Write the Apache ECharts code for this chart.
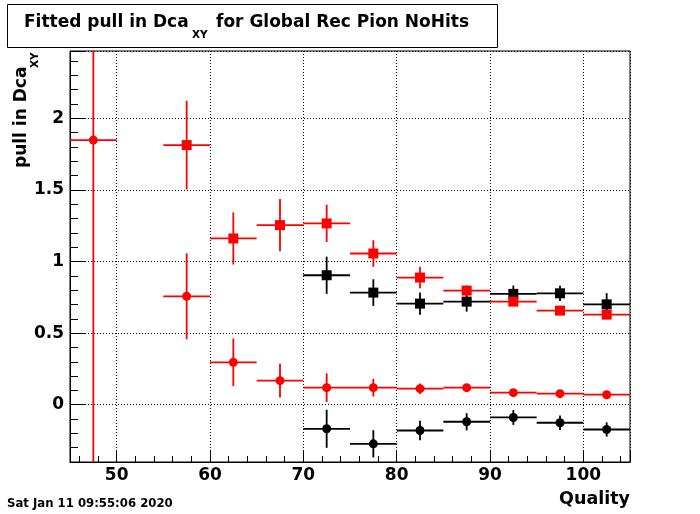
<!DOCTYPE html>
<html><head><meta charset="utf-8">
<script src="https://cdn.jsdelivr.net/npm/echarts@6/dist/echarts.min.js"></script>
<style>html,body{margin:0;padding:0;background:#fff}#c{width:700px;height:514px}</style>
</head><body><div id="c"></div>
<script>
// ---- data ----
const xRedCircle = [47.5, 57.5, 62.5, 67.5, 72.5, 77.5, 82.5, 87.5, 92.5, 97.5, 102.5];
const yRedCircle = [1.848, 0.757, 0.296, 0.168, 0.119, 0.119, 0.112, 0.119, 0.084, 0.077, 0.070];
const eRedCircle = [3.0, 0.30, 0.166, 0.118, 0.10, 0.062, 0.037, 0.025, 0.022, 0.018, 0.018];

const xRedSquare = [57.5, 62.5, 67.5, 72.5, 77.5, 82.5, 87.5, 92.5, 97.5, 102.5];
const yRedSquare = [1.813, 1.161, 1.254, 1.266, 1.056, 0.888, 0.797, 0.720, 0.657, 0.629];
const eRedSquare = [0.31, 0.182, 0.182, 0.13, 0.093, 0.075, 0.035, 0.02, 0.02, 0.02];

const xBlack = [72.5, 77.5, 82.5, 87.5, 92.5, 97.5, 102.5];
const yBlackSquare = [0.904, 0.783, 0.706, 0.720, 0.774, 0.778, 0.701];
const eBlackSquare = [0.13, 0.093, 0.077, 0.07, 0.058, 0.053, 0.078];
const yBlackCircle = [-0.168, -0.273, -0.180, -0.119, -0.089, -0.126, -0.173];
const eBlackCircle = [0.133, 0.095, 0.068, 0.06, 0.052, 0.05, 0.05];

const binHalfWidth = 2.5;
const xMin = 45, xMax = 105, yMin = -0.4, yMax = 2.47;

const FONT = 'DejaVu Sans';

function errSeries(xs, ys, es, color) {
  return {
    type: 'custom',
    clip: true,
    silent: true,
    animation: false,
    data: xs.map((x, i) => [x, ys[i], es[i]]),
    renderItem: function (params, api) {
      const x = api.value(0), y = api.value(1), e = api.value(2);
      const l = api.coord([Math.max(x - binHalfWidth, xMin), y]);
      const r = api.coord([Math.min(x + binHalfWidth, xMax), y]);
      const t = api.coord([x, Math.min(y + e, yMax)]);
      const b = api.coord([x, Math.max(y - e, yMin)]);
      return {
        type: 'group',
        children: [
          { type: 'line', shape: { x1: l[0], y1: l[1], x2: r[0], y2: r[1] }, style: { stroke: color, lineWidth: 1.8 } },
          { type: 'line', shape: { x1: t[0], y1: t[1], x2: b[0], y2: b[1] }, style: { stroke: color, lineWidth: 1.8 } }
        ]
      };
    }
  };
}
function markSeries(xs, ys, color, symbol, size) {
  return {
    type: 'scatter',
    silent: true,
    animation: false,
    symbol: symbol,
    symbolSize: size,
    itemStyle: { color: color, opacity: 1 },
    data: xs.map((x, i) => [x, ys[i]])
  };
}

const axisLabelStyle = { color: '#000', fontFamily: FONT, fontWeight: 'bold', fontSize: 17 };
const gridLine = { show: true, lineStyle: { color: '#000', type: [1, 2], width: 1 } };

const chart = echarts.init(document.getElementById('c'), null, { renderer: 'canvas' });
chart.setOption({
  backgroundColor: '#fff',
  animation: false,
  grid: { left: 70, right: 70, top: 51, bottom: 52, show: true, borderColor: '#000', borderWidth: 1, backgroundColor: 'transparent' },
  xAxis: {
    type: 'value', min: xMin, max: xMax, splitNumber: 6,
    axisLine: { show: true, onZero: false, lineStyle: { color: '#000', width: 1 } },
    axisTick: { show: true, inside: true, length: 12, lineStyle: { color: '#000', width: 1 } },
    minorTick: { show: true, splitNumber: 5, length: 6, lineStyle: { color: '#000', width: 1 } },
    splitLine: gridLine,
    axisLabel: Object.assign({ showMinLabel: false, showMaxLabel: false, margin: 5 }, axisLabelStyle)
  },
  yAxis: {
    type: 'value', min: yMin, max: yMax, splitNumber: 5,
    axisLine: { show: true, onZero: false, lineStyle: { color: '#000', width: 1 } },
    axisTick: { show: true, inside: true, length: 16, lineStyle: { color: '#000', width: 1 } },
    minorTick: { show: true, splitNumber: 5, length: 8, lineStyle: { color: '#000', width: 1 } },
    splitLine: gridLine,
    axisLabel: Object.assign({ showMinLabel: false, showMaxLabel: false, margin: 6 }, axisLabelStyle)
  },
  series: [
    errSeries(xBlack, yBlackSquare, eBlackSquare, '#000'),
    markSeries(xBlack, yBlackSquare, '#000', 'rect', 10),
    errSeries(xBlack, yBlackCircle, eBlackCircle, '#000'),
    markSeries(xBlack, yBlackCircle, '#000', 'circle', 9),
    errSeries(xRedSquare, yRedSquare, eRedSquare, '#ff0000'),
    markSeries(xRedSquare, yRedSquare, '#ff0000', 'rect', 10),
    errSeries(xRedCircle, yRedCircle, eRedCircle, '#ff0000'),
    markSeries(xRedCircle, yRedCircle, '#ff0000', 'circle', 9)
  ],
  graphic: [
    { type: 'rect', shape: { x: 7.5, y: 4.5, width: 490, height: 43 }, style: { fill: '#fff', stroke: '#000', lineWidth: 1 }, z: 10 },
    { type: 'text', x: 24, y: 23, z: 11, style: { text: 'Fitted pull in Dca', font: 'bold 17px "DejaVu Sans"', fill: '#000', align: 'left', verticalAlign: 'middle', textAlign: 'left', textVerticalAlign: 'middle' } },
    { type: 'text', x: 192, y: 35.5, z: 11, style: { text: 'XY', font: 'bold 10.5px "DejaVu Sans"', fill: '#000', align: 'left', verticalAlign: 'middle', textAlign: 'left', textVerticalAlign: 'middle' } },
    { type: 'text', x: 216, y: 23, z: 11, style: { text: 'for Global Rec Pion NoHits', font: 'bold 17px "DejaVu Sans"', fill: '#000', align: 'left', verticalAlign: 'middle', textAlign: 'left', textVerticalAlign: 'middle' } },
    { type: 'text', x: 22, y: 168, rotation: Math.PI / 2, z: 11, style: { text: 'pull in Dca', font: 'bold 17px "DejaVu Sans"', fill: '#000', align: 'left', verticalAlign: 'middle', textAlign: 'left', textVerticalAlign: 'middle' } },
    { type: 'text', x: 35, y: 68, rotation: Math.PI / 2, z: 11, style: { text: 'XY', font: 'bold 10.5px "DejaVu Sans"', fill: '#000', align: 'left', verticalAlign: 'middle', textAlign: 'left', textVerticalAlign: 'middle' } },
    { type: 'text', x: 630, y: 499, z: 11, style: { text: 'Quality', font: 'bold 17.5px "DejaVu Sans"', fill: '#000', align: 'right', verticalAlign: 'middle', textAlign: 'right', textVerticalAlign: 'middle' } },
    { type: 'text', x: 7, y: 504, z: 11, style: { text: 'Sat Jan 11 09:55:06 2020', font: 'bold 11.7px "DejaVu Sans"', fill: '#000', align: 'left', verticalAlign: 'middle', textAlign: 'left', textVerticalAlign: 'middle' } }
  ]
});
</script>
</body></html>
